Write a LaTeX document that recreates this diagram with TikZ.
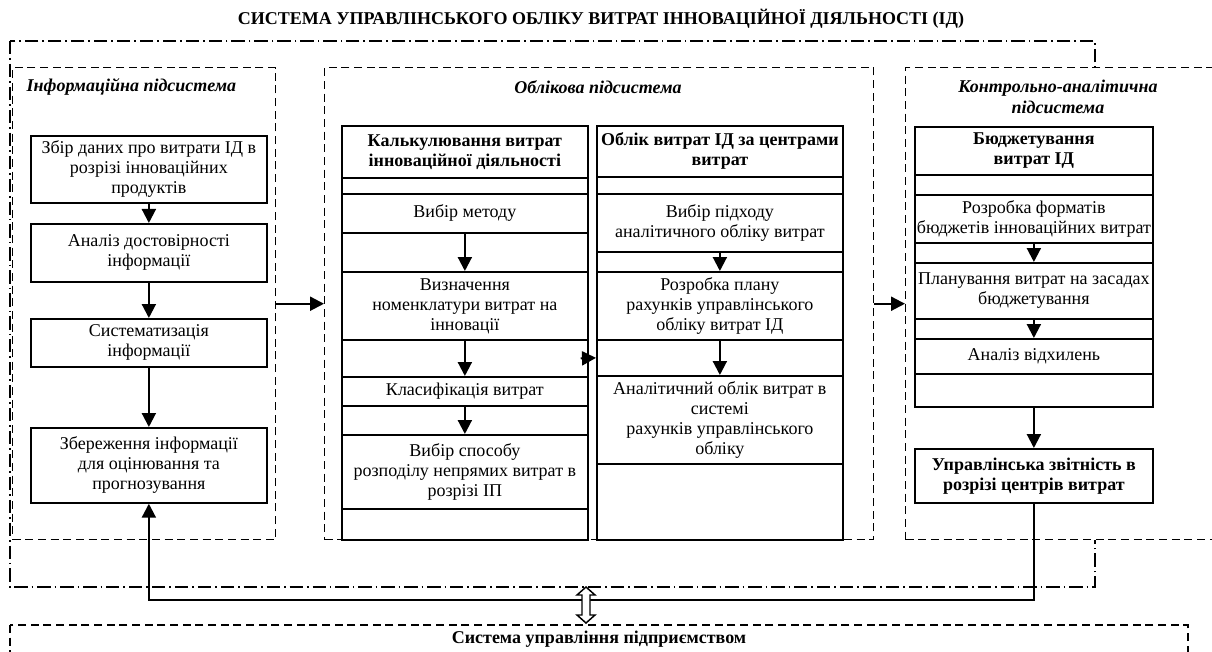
\documentclass[tikz,border=0pt]{standalone}
\usepackage{fontspec}
\setmainfont{Liberation Serif}
\usetikzlibrary{arrows.meta}
\tikzset{
  cell/.style 2 args={draw, line width=1.3pt, anchor=north west, align=center, inner sep=0pt,
    minimum width=0.75pt*#1, minimum height=0.75pt*#2, font=\fontsize{13.5}{15}\selectfont},
  subsys/.style 2 args={draw, line width=1.1pt, dash pattern=on 6pt off 3.5pt, anchor=north west,
    minimum width=0.75pt*#1, minimum height=0.75pt*#2, inner sep=0pt},
  dashdot/.style={line width=1.1pt, dash pattern=on 10pt off 3pt on 1.2pt off 3pt},
  subtitle/.style={font=\fontsize{13.5}{16}\selectfont\bfseries\itshape, align=center},
  arr/.style={line width=1.6pt, -{Triangle[length=10.5pt,width=10.5pt]}},
}
\begin{document}
\begin{tikzpicture}[x=0.75pt,y=-0.75pt]
	\clip (0,0) rectangle (1212,652);
	\node[font=\fontsize{13.5}{15}\selectfont\bfseries] (title) at (601,19) {СИСТЕМА УПРАВЛІНСЬКОГО ОБЛІКУ ВИТРАТ ІННОВАЦІЙНОЇ ДІЯЛЬНОСТІ (ІД)};
	\draw[dashdot] (10,41) rectangle (1095,587);%outer frame

	% subsystems
	\node[subsys={263}{472}] (infosys) at (12,67) {};
	\node[subsys={549}{472}] (accsys) at (324,67) {};
	\node[subsys={330}{472}, fill=white] (ctrlsys) at (905,67) {};
	\node[subtitle, anchor=west] (infott) at (22,87) {Інформаційна підсистема};
	\node[subtitle] (acctt) at (598,87) {Облікова підсистема};
	\node[subtitle] (ctrltt) at (1058,97) {Контрольно-аналітична\\підсистема};

	% information subsystem
	\node[cell={236}{67}] (a1) at (30,135) {Збір даних про витрати ІД в\\розрізі інноваційних\\продуктів};
	\node[cell={236}{58}] (a2) at (30,223) {Аналіз достовірності\\інформації};
	\node[cell={236}{48}] (a3) at (30,318) {Систематизація\\інформації};
	\node[cell={236}{75}] (a4) at (30,427) {Збереження інформації\\для оцінювання та\\прогнозування};
	\draw[arr] (a1) -- (a2);
	\draw[arr] (a2) -- (a3);
	\draw[arr] (a3) -- (a4);

	% costing table
	\node[cell={246}{52}, font=\fontsize{13.5}{15}\selectfont\bfseries] (c0) at (341,125) {Калькулювання витрат\\інноваційної діяльності};
	\node[cell={246}{16}] (cb) at (341,177) {};
	\node[cell={246}{39}] (c1) at (341,193) {Вибір методу};
	\node[cell={246}{39}] (cg1) at (341,232) {};
	\node[cell={246}{68}] (c2) at (341,271) {Визначення\\номенклатури витрат на\\інновації};
	\node[cell={246}{37}] (cg2) at (341,339) {};
	\node[cell={246}{29}] (c3) at (341,376) {Класифікація витрат};
	\node[cell={246}{29}] (cg3) at (341,405) {};
	\node[cell={246}{74}] (c4) at (341,434) {Вибір способу\\розподілу непрямих витрат в\\розрізі ІП};
	\node[cell={246}{31}] (ce) at (341,508) {};
	\draw[arr] (c1) -- (c2);
	\draw[arr] (c2) -- (c3);
	\draw[arr] (c3) -- (c4);

	% cost centres table
	\node[cell={246}{51}, font=\fontsize{13.5}{15}\selectfont\bfseries] (s0) at (596,125) {Облік витрат ІД за центрами\\витрат};
	\node[cell={246}{17}] (sb) at (596,176) {};
	\node[cell={246}{58}] (s1) at (596,193) {Вибір підходу\\аналітичного обліку витрат};
	\node[cell={246}{20}] (sg1) at (596,251) {};
	\node[cell={246}{68}] (s2) at (596,271) {Розробка плану\\рахунків управлінського\\обліку витрат ІД};
	\node[cell={246}{36}] (sg2) at (596,339) {};
	\node[cell={246}{88}] (s3) at (596,375) {Аналітичний облік витрат в\\системі\\рахунків управлінського\\обліку};
	\node[cell={246}{76}] (se) at (596,463) {};
	\draw[arr] (s1) -- (s2);
	\draw[arr] (s2) -- (s3);
	\draw[arr] ([xshift=-6pt]cg2.east) -- (sg2.west);

	% budgeting table
	\node[cell={238}{48}, font=\fontsize{13.5}{15}\selectfont\bfseries] (t0) at (914,126) {Бюджетування\\витрат ІД};
	\node[cell={238}{20}] (tb) at (914,174) {};
	\node[cell={238}{48}] (t1) at (914,194) {Розробка форматів\\бюджетів інноваційних витрат};
	\node[cell={238}{20}] (tg1) at (914,242) {};
	\node[cell={238}{56}] (t2) at (914,262) {Планування витрат на засадах\\бюджетування};
	\node[cell={238}{20}] (tg2) at (914,318) {};
	\node[cell={238}{35}] (t3) at (914,338) {Аналіз відхилень};
	\node[cell={238}{33}] (te) at (914,373) {};
	\node[cell={238}{54}, font=\fontsize{13.5}{15}\selectfont\bfseries] (rep) at (914,448) {Управлінська звітність в\\розрізі центрів витрат};
	\draw[arr] (t1) -- (t2);
	\draw[arr] (t2) -- (t3);
	\draw[arr] (te) -- (rep);

	\draw[arr] (infosys.east) -- (accsys.west);
	\draw[arr] (accsys.east) -- (ctrlsys.west);
	\draw[arr] (rep.south) -- ++(0,96) -| (a4.south);%feedback

	% enterprise management system
	\draw[line width=1.1pt, dash pattern=on 6pt off 3.5pt] (10,625) rectangle (1188,690);
	\node[font=\fontsize{13.5}{15}\selectfont\bfseries] (ems) at (599,639) {Система управління підприємством};
	\coordinate (linktop) at (586,587);
	\coordinate (linkbot) at (586,623);
	\draw[line width=1.1pt, fill=white] (linktop) -- ++(9,8) -- ++(-5,0) -- ++(0,20) -- ++(5,0) -- (linkbot)
		-- ++(-9,-8) -- ++(5,0) -- ++(0,-20) -- ++(-5,0) -- cycle;

\end{tikzpicture}
\end{document}
